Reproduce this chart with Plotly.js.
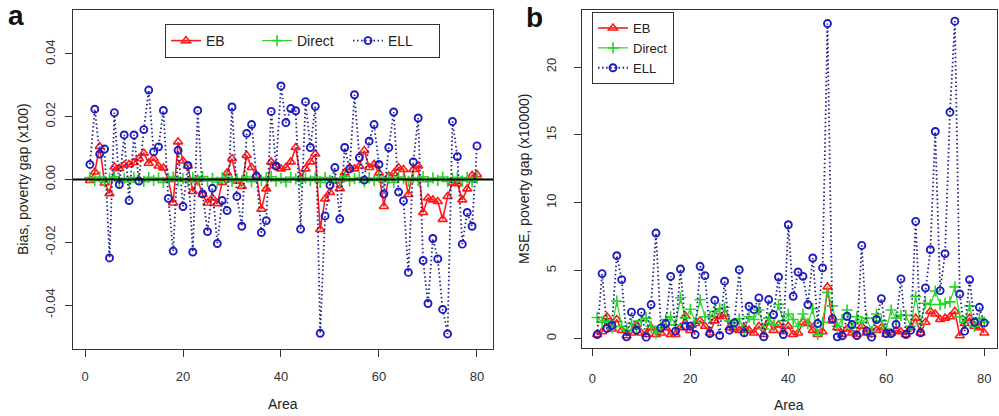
<!DOCTYPE html>
<html>
<head>
<meta charset="utf-8">
<script src="https://cdn.plot.ly/plotly-3.0.1.min.js"></script>
<style>html,body{margin:0;padding:0;background:#fff;}#chart{width:999px;height:416px;}</style>
</head>
<body>
<div id="chart"></div>
<script>
// ---------- data ----------
var areas = [];
for (var k = 1; k <= 80; k++) areas.push(k);

var biasEB = [
 -0.0003, 0.0024, 0.0105, -0.0011, -0.0045, 0.0040, 0.0035, 0.0046, 0.0048, 0.0054,
  0.0067, 0.0084, 0.0052, 0.0067, 0.0043, 0.0037, 0.0000, -0.0075, 0.0120, 0.0059,
  0.0043, -0.0038, 0.0000, -0.0048, -0.0075, -0.0059, -0.0077, -0.0009, 0.0021, 0.0067,
 -0.0005, -0.0022, 0.0077, 0.0038, 0.0013, -0.0095, -0.0030, 0.0056, 0.0043, 0.0034,
  0.0038, 0.0056, 0.0102, 0.0005, 0.0034, 0.0056, 0.0081, -0.0159, -0.0062, -0.0041,
 -0.0005, -0.0029, 0.0021, 0.0038, 0.0034, 0.0043, 0.0092, 0.0038, 0.0048, 0.0021,
 -0.0086, 0.0011, 0.0019, 0.0038, 0.0032, -0.0048, 0.0032, 0.0043, -0.0105, -0.0059,
 -0.0065, -0.0070, -0.0127, -0.0054, -0.0011, -0.0013, -0.0065, -0.0030, 0.0013, 0.0016
];
var biasDirect = [
  0.0006, -0.0004, 0.0008, -0.0007, 0.0003, 0.0009, -0.0005, 0.0004, -0.0008, 0.0006,
  0.0002, -0.0006, 0.0007, -0.0003, 0.0005, -0.0009, 0.0004, 0.0008, -0.0004, 0.0003,
 -0.0007, 0.0006, -0.0002, 0.0009, -0.0005, 0.0004, -0.0008, 0.0005, 0.0007, -0.0006,
  0.0003, -0.0004, 0.0008, -0.0007, 0.0005, -0.0003, 0.0006, 0.0009, -0.0005, 0.0004,
 -0.0008, 0.0007, 0.0002, -0.0006, 0.0005, -0.0004, 0.0008, -0.0009, 0.0006, -0.0003,
  0.0004, -0.0007, 0.0009, -0.0005, 0.0003, 0.0006, -0.0008, 0.0005, -0.0004, 0.0007,
 -0.0006, 0.0004, -0.0009, 0.0008, 0.0003, -0.0005, 0.0006, -0.0004, 0.0009, -0.0007,
  0.0005, -0.0003, 0.0008, -0.0006, 0.0004, 0.0007, -0.0005, 0.0006, -0.0008, 0.0004
];
var biasELL = [
  0.0048, 0.0224, 0.0081, 0.0097, -0.0250, 0.0213, -0.0016, 0.0142, -0.0067, 0.0142,
 -0.0005, 0.0159, 0.0285, 0.0088, 0.0104, 0.0220, -0.0060, -0.0228, 0.0093, -0.0086,
  0.0045, -0.0231, 0.0220, -0.0046, -0.0166, -0.0028, -0.0204, -0.0067, -0.0099, 0.0231,
 -0.0054, -0.0149, 0.0147, 0.0175, 0.0011, -0.0169, -0.0131, 0.0217, 0.0043, 0.0298,
  0.0181, 0.0226, 0.0219, -0.0158, 0.0248, 0.0102, 0.0233, -0.0490, -0.0116, -0.0018,
  0.0038, -0.0126, 0.0102, 0.0034, 0.0270, 0.0070, -0.0002, 0.0122, 0.0175, 0.0048,
 -0.0046, 0.0102, 0.0215, -0.0040, -0.0068, -0.0296, 0.0056, 0.0196, -0.0258, -0.0395,
 -0.0188, -0.0253, -0.0414, -0.0492, 0.0185, 0.0073, -0.0206, -0.0105, -0.0149, 0.0107
];

var mseEB = [
  0.3, 0.5, 1.6, 0.7, 1.4, 0.6, 0.2, 0.4, 1.0, 0.4,
  0.3, 0.8, 0.3, 0.4, 0.8, 0.3, 0.3, 0.8, 1.65, 0.6,
  1.1, 1.3, 0.9, 0.4, 1.3, 1.6, 1.8, 0.8, 0.7, 0.6,
  0.8, 0.6, 0.4, 0.9, 0.3, 1.2, 0.6, 1.0, 0.5, 0.9,
  0.3, 0.4, 1.2, 1.1, 0.6, 0.3, 0.5, 3.8, 1.3, 0.8,
  0.3, 0.7, 0.4, 0.3, 0.9, 0.4, 0.3, 0.6, 0.8, 0.3,
  0.4, 0.6, 0.5, 0.3, 0.8, 1.5, 0.4, 1.2, 2.0, 1.8,
  1.4, 1.5, 1.6, 2.0, 0.2, 1.1, 1.5, 0.9, 0.8, 0.4
];
var mseDirect = [
  1.55, 1.2, 1.35, 0.8, 2.75, 0.9, 0.6, 1.1, 0.7, 1.3,
  1.5, 0.9, 0.4, 0.8, 1.4, 1.6, 1.0, 3.0, 1.5, 2.15,
  1.2, 2.85, 1.6, 1.6, 2.0, 2.2, 2.3, 1.3, 1.1, 1.45,
  0.6, 1.6, 1.4, 2.1, 0.7, 1.5, 1.0, 2.5, 1.3, 1.8,
  1.4, 0.9, 1.8, 1.1, 2.2, 0.3, 1.2, 3.4, 2.4, 0.9,
  1.4, 2.1, 0.8, 1.6, 1.2, 1.5, 0.5, 1.8, 1.3, 0.7,
  2.1, 1.5, 1.7, 1.7, 0.9, 3.1, 1.1, 2.6, 2.5, 3.5,
  2.5, 2.6, 2.7, 3.8, 1.6, 1.2, 2.4, 0.9, 1.5, 1.2
];
var mseELL = [
  0.29, 4.78, 0.74, 0.96, 6.10, 4.34, 0.12, 1.94, 0.61, 1.94,
  0.10, 2.50, 7.77, 0.78, 1.10, 4.58, 0.54, 5.12, 0.91, 0.91,
  0.29, 5.32, 4.63, 0.37, 2.82, 0.22, 4.22, 0.61, 1.15, 5.07,
  0.42, 2.38, 2.13, 2.99, 0.12, 2.87, 1.76, 4.53, 0.29, 8.38,
  3.11, 4.90, 4.58, 2.50, 5.93, 1.10, 5.20, 23.2, 1.45, 0.12,
  0.20, 1.64, 1.03, 0.22, 6.86, 0.54, 0.10, 1.40, 2.94, 0.37,
  0.37, 1.03, 4.39, 0.29, 0.61, 8.63, 0.42, 3.73, 6.54, 15.25,
  3.53, 6.25, 16.67, 23.38, 3.28, 0.54, 4.34, 1.20, 2.30, 1.15
];

var xTickVals = [0, 20, 40, 60, 80];
var xTickText = ['0', '20', '40', '60', '80'];
var biasTickVals = [-0.04, -0.02, 0, 0.02, 0.04];
var biasTickText = ['-0.04', '-0.02', '0.00', '0.02', '0.04'];
var mseTickVals = [0, 5, 10, 15, 20];
var mseTickText = ['0', '5', '10', '15', '20'];

// ---------- styles ----------
var RED = '#ff1a1a', GREEN = '#2ad42a', BLUE = '#1c1cc4', DOTBLUE = '#22228a';
var FONT = 'Liberation Sans, Arial, Helvetica, sans-serif';
var W = 999, H = 416;

function ebTrace(x, y, xa, ya, lg) {
  return {x: x, y: y, xaxis: xa, yaxis: ya, name: 'EB', legend: lg, type: 'scatter', mode: 'lines+markers',
    line: {color: RED, width: 1.6},
    marker: {symbol: 'triangle-up-open', size: 8, color: RED, line: {color: RED, width: 1.6}}};
}
function directTrace(x, y, xa, ya, lg) {
  return {x: x, y: y, xaxis: xa, yaxis: ya, name: 'Direct', legend: lg, type: 'scatter', mode: 'lines+markers',
    line: {color: GREEN, width: 1.2},
    marker: {symbol: 'cross-thin-open', size: 8, color: GREEN, line: {color: GREEN, width: 1.6}}};
}
function ellTrace(x, y, xa, ya, lg) {
  return {x: x, y: y, xaxis: xa, yaxis: ya, name: 'ELL', legend: lg, type: 'scatter', mode: 'lines+markers',
    line: {color: DOTBLUE, width: 1.8, dash: '1.5px,2.6px'},
    marker: {symbol: 'circle-open', size: 7, color: BLUE, line: {color: BLUE, width: 1.9}}};
}

var data = [
  ebTrace(areas, biasEB, 'x', 'y', 'legend'),
  directTrace(areas, biasDirect, 'x', 'y', 'legend'),
  ellTrace(areas, biasELL, 'x', 'y', 'legend'),
  ebTrace(areas, mseEB, 'x2', 'y2', 'legend2'),
  directTrace(areas, mseDirect, 'x2', 'y2', 'legend2'),
  ellTrace(areas, mseELL, 'x2', 'y2', 'legend2')
];

function px(v) { return v / W; }
function py(v) { return 1 - v / H; }

var axisCommon = {
  showline: true, mirror: true, linecolor: '#333', linewidth: 1,
  ticks: 'outside', ticklen: 7, tickwidth: 1, tickcolor: '#333',
  showgrid: false, zeroline: false, tickmode: 'array',
  tickfont: {family: FONT, size: 13, color: '#333'}
};
function ax(extra) { var o = {}; for (var k in axisCommon) o[k] = axisCommon[k]; for (var k2 in extra) o[k2] = extra[k2]; return o; }

var layout = {
  width: W, height: H,
  margin: {l: 0, r: 0, t: 0, b: 0},
  paper_bgcolor: '#fff', plot_bgcolor: '#fff',
  font: {family: FONT, size: 14, color: '#222'},
  xaxis: ax({domain: [px(73), px(493)], range: [-2.45, 83.27], tickvals: xTickVals, ticktext: xTickText, anchor: 'y', ticklabelstandoff: 8}),
  yaxis: ax({domain: [py(349), py(10)], range: [-0.054, 0.054], tickvals: biasTickVals, ticktext: biasTickText, anchor: 'x', tickangle: -90, ticklabelstandoff: 5}),
  xaxis2: ax({domain: [px(582), px(997)], range: [-2.1, 82.6], tickvals: xTickVals, ticktext: xTickText, anchor: 'y2', ticklabelstandoff: 11}),
  yaxis2: ax({domain: [py(348), py(10)], range: [-0.7, 24.2], tickvals: mseTickVals, ticktext: mseTickText, anchor: 'x2', tickangle: -90, ticklabelstandoff: 13}),
  legend: {
    orientation: 'h', x: px(165), y: py(24), xanchor: 'left', yanchor: 'top',
    bgcolor: '#fff', bordercolor: '#333', borderwidth: 1,
    font: {family: FONT, size: 14, color: '#222'},
    entrywidth: 46, entrywidthmode: 'pixels'
  },
  legend2: {
    orientation: 'v', x: px(592), y: py(12), xanchor: 'left', yanchor: 'top',
    bgcolor: '#fff', bordercolor: '#333', borderwidth: 1, tracegroupgap: 0,
    font: {family: FONT, size: 13, color: '#222'}
  },
  shapes: [
    {type: 'line', xref: 'x domain', yref: 'y', x0: 0, x1: 1, y0: 0, y1: 0,
     line: {color: '#000', width: 2}, layer: 'above'}
  ],
  annotations: [
    {text: '<b>a</b>', xref: 'paper', yref: 'paper', x: px(16), y: py(16), xanchor: 'center', yanchor: 'middle', showarrow: false, font: {family: FONT, size: 28, color: '#111'}},
    {text: '<b>b</b>', xref: 'paper', yref: 'paper', x: px(534), y: py(18), xanchor: 'center', yanchor: 'middle', showarrow: false, font: {family: FONT, size: 28, color: '#111'}},
    {text: 'Area', xref: 'paper', yref: 'paper', x: px(283), y: py(404), xanchor: 'center', yanchor: 'middle', showarrow: false, font: {family: FONT, size: 14, color: '#222'}},
    {text: 'Area', xref: 'paper', yref: 'paper', x: px(789), y: py(405), xanchor: 'center', yanchor: 'middle', showarrow: false, font: {family: FONT, size: 14, color: '#222'}},
    {text: 'Bias, poverty gap (x100)', xref: 'paper', yref: 'paper', x: px(23), y: py(179), xanchor: 'center', yanchor: 'middle', textangle: -90, showarrow: false, font: {family: FONT, size: 14, color: '#222'}},
    {text: 'MSE, poverty gap (x10000)', xref: 'paper', yref: 'paper', x: px(524), y: py(179), xanchor: 'center', yanchor: 'middle', textangle: -90, showarrow: false, font: {family: FONT, size: 14, color: '#222'}}
  ]
};

Plotly.newPlot('chart', data, layout, {displayModeBar: false, staticPlot: true});
</script>
</body>
</html>
